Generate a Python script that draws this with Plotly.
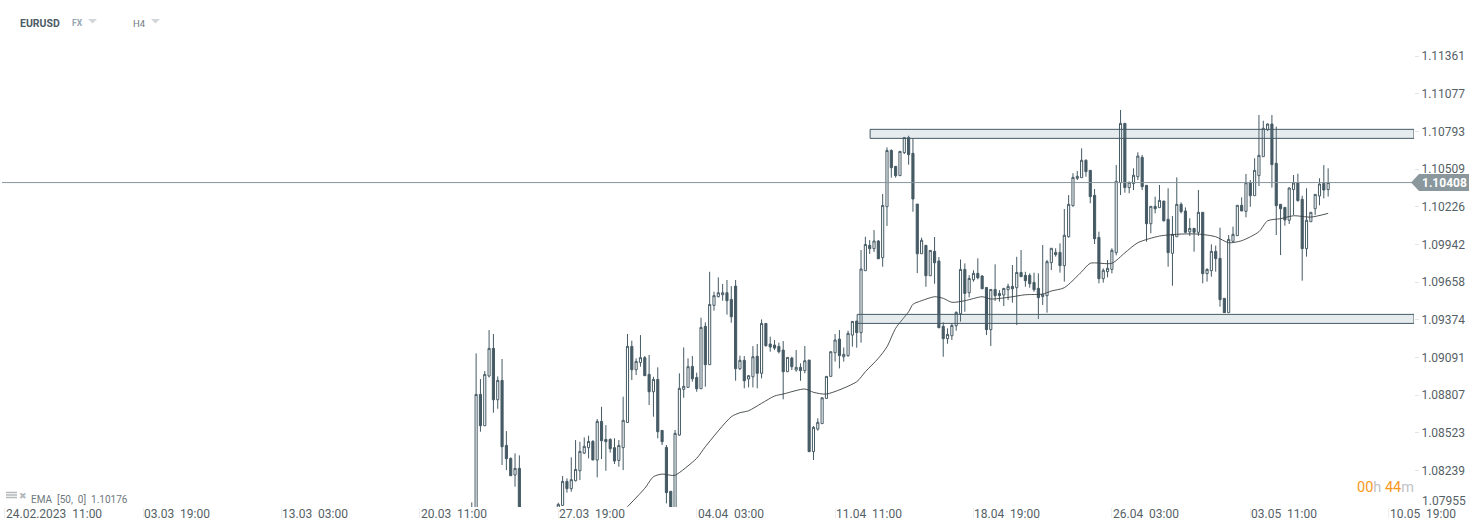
import plotly.graph_objects as go

# Bar numbers: 32 bars between time labels; bars 120-127 sit below the visible window
bar_index = list(range(108, 120)) + list(range(128, 307))

open_pts = [
    107930,107900,108812,108576,108951,109159,108772,108918,108428,108330,
    108205,108255,
    107930,107976,108157,108102,108162,108237,108370,108411,108458,108318,
    108609,108473,108473,108411,108315,108411,108601,109174,108998,109053,
    109089,108963,108832,108925,108541,108413,108082,107900,108506,108850,
    108865,109023,108940,108855,109325,109036,109483,109548,109563,109578,
    109528,109628,109006,109069,108928,108945,109099,108971,109347,109192,
    109184,109174,109146,108983,109086,108996,109016,108991,109071,108381,
    108551,108592,108782,108948,109126,109229,109096,109104,109259,109365,
    109277,109744,109935,109910,109968,109842,110226,110650,110530,110460,
    110633,110748,110628,110246,109872,109935,109706,109890,109817,109325,
    109232,109254,109330,109420,109754,109578,109676,109724,109704,109618,
    109300,109603,109573,109561,109601,109626,109616,109731,109709,109709,
    109656,109611,109549,109556,109805,109882,109882,109782,110000,110234,
    110440,110445,110576,110500,110312,109995,109684,109737,109754,109880,
    110407,110854,110370,110400,110452,110598,110387,110098,110229,110219,
    110269,110131,109875,110000,110244,110194,110036,110063,110033,110184,
    109722,109744,109890,109837,109536,109428,109965,110008,110237,110191,
    110407,110309,110460,110603,110807,110849,110553,110244,110221,110124,
    110355,110405,110282,109910,110113,110211,110307,110402,110355,
]
high_pts = [
    107999,109121,108928,108988,109297,109267,108948,109079,108536,108338,
    108368,108353,
    107996,108197,108180,108338,108468,108456,108488,108501,108468,108627,
    108719,108581,108481,108481,108468,108795,109267,109217,109084,109259,
    109101,109109,108945,109016,108544,108431,108082,108544,108971,109166,
    109084,109101,108976,109390,109355,109736,109586,109694,109644,109674,
    109628,109674,109104,109101,108958,109176,109192,109377,109347,109247,
    109222,109202,109214,109091,109096,109146,109046,109177,109071,108574,
    108632,108787,108948,109134,109267,109297,109166,109292,109365,109365,
    109900,110000,109975,110050,109975,110322,110673,110658,110530,110643,
    110748,110761,110741,110246,109993,109935,109897,109998,109847,109355,
    109310,109347,109438,109829,109799,109711,109747,109837,109711,109618,
    109603,109792,109598,109611,109646,109787,109849,109900,109736,109724,
    109729,109724,109938,109825,109913,109913,109950,110209,110314,110478,
    110495,110666,110583,110503,110360,110038,109762,109825,109913,110540,
    110955,110854,110415,110515,110636,110616,110387,110229,110302,110390,
    110269,110365,110156,110447,110259,110221,110139,110063,110352,110184,
    109762,109943,109933,110068,109536,110013,110076,110237,110297,110473,
    110427,110591,110917,110874,110854,110917,110829,110244,110221,110372,
    110465,110475,110309,110365,110184,110319,110440,110540,110515,
]
low_pts = [
    107880,107850,108531,108576,108940,108674,108704,108280,108242,108197,
    108117,107850,
    107900,107976,108072,108079,108157,108167,108363,108330,108318,108187,
    108325,108237,108373,108288,108268,108242,108601,108920,108958,109021,
    108951,108732,108644,108481,108431,107991,107850,107850,108501,108787,
    108865,108908,108832,108855,108870,109036,109443,109543,109518,109413,
    109352,108915,108996,108858,108865,108865,108858,108933,109172,109134,
    109146,109121,108775,108983,108996,108983,108915,108971,108381,108318,
    108539,108592,108782,108948,109059,109008,109059,109096,109172,109164,
    109202,109744,109870,109885,109834,109774,110081,110445,110445,110460,
    110623,110543,110188,109726,109872,109623,109706,109646,109310,109096,
    109194,109222,109292,109360,109435,109543,109661,109679,109608,109259,
    109177,109516,109511,109478,109523,109503,109335,109699,109623,109616,
    109586,109380,109486,109428,109749,109850,109729,109662,109993,110226,
    110427,110445,110452,110252,109945,109649,109654,109694,109724,109860,
    110314,110332,110327,110352,110427,110352,109963,110026,110176,110219,
    110113,109774,109631,110000,110176,110026,110006,109887,110006,109649,
    109662,109699,109737,109473,109428,109428,109965,110008,110194,110146,
    110226,110309,110382,110603,110796,110370,110013,109862,110083,110096,
    110164,110264,109669,109850,110113,110164,110237,110289,110302,
]
close_pts = [
    107950,108812,108576,108963,109159,108772,108918,108418,108328,108200,
    108255,107900,
    107984,108157,108102,108170,108247,108383,108421,108458,108318,108609,
    108463,108456,108403,108310,108428,108617,109174,108998,109061,109089,
    108953,108832,108925,108531,108456,108072,107900,108519,108858,108873,
    109021,108930,108855,109317,109036,109490,109556,109578,109578,109518,
    109397,109006,109069,108915,108953,109096,108971,109347,109179,109169,
    109161,109134,108983,109091,109021,109016,108991,109066,108381,108564,
    108602,108787,108948,109134,109222,109104,109114,109272,109362,109277,
    109757,109942,109910,109968,109834,110236,110650,110520,110460,110643,
    110748,110618,110284,109872,109973,109706,109897,109804,109315,109232,
    109264,109332,109430,109754,109573,109686,109724,109691,109608,109300,
    109603,109556,109556,109611,109626,109608,109731,109699,109669,109646,
    109601,109541,109566,109812,109913,109865,109782,110011,110244,110447,
    110455,110576,110490,110302,109985,109684,109747,109762,109898,110417,
    110854,110370,110410,110463,110608,110377,110098,110229,110211,110274,
    110121,109880,110018,110244,110189,110033,110063,110033,110184,109722,
    109754,109890,109835,109526,109428,109980,110018,110237,110194,110407,
    110309,110500,110613,110817,110849,110543,110234,110211,110126,110367,
    110405,110272,109910,110124,110184,110319,110397,110352,110408,
]

ema_index = [144,148,150,152,154,155,160,162,168,170,172,175,178,180,185,187,190,197,199,
             202,204,206,209,210,212,215,217,219,222,226,228,232,236,240,242,245,249,251,
             256,259,262,267,272,276,280,283,286,290,292,295,298,302,306]
ema_pts = [107966,108105,108192,108212,108203,108203,108331,108418,108644,108674,108689,
           108745,108800,108815,108853,108828,108815,108908,108983,109084,109171,109310,
           109435,109491,109518,109548,109536,109506,109518,109548,109531,109543,109563,
           109568,109591,109616,109736,109800,109800,109879,109955,110005,110020,110020,
           110000,109955,109970,110038,110120,110136,110158,110148,110176]

price_ticks = [1.11361,1.11077,1.10793,1.10509,1.10226,1.09942,1.09658,1.09374,1.09091,1.08807,1.08523,1.08239]
lowest_tick = 1.07955
time_index = [0,32,64,96,128,160,192,224,256,288,320]
time_labels = ["24.02.2023  11:00","03.03  19:00","13.03  03:00","20.03  11:00","27.03  19:00",
               "04.04  03:00","11.04  11:00","18.04  19:00","26.04  03:00","03.05  11:00","10.05  19:00"]
last_price = 1.10408
upper_zone = (1.10741, 1.10809)
lower_zone = (1.09347, 1.09415)
zone_start = (200.1, 197.1)

INK = "#455a64"
TXT = "#555f66"
FONT = "Roboto"
PL, PR, PT, PB = 2, 1414, 40, 507
XMAX = 325.85


def px(x):
    return (x - PL) / (PR - PL)


def py(y):
    return (PB - y) / (PB - PT)


fig = go.Figure()
fig.add_trace(go.Candlestick(
    x=bar_index,
    open=[v / 1e5 for v in open_pts],
    high=[v / 1e5 for v in high_pts],
    low=[v / 1e5 for v in low_pts],
    close=[v / 1e5 for v in close_pts],
    increasing=dict(line=dict(color=INK, width=1), fillcolor="#ffffff"),
    decreasing=dict(line=dict(color=INK, width=1), fillcolor=INK),
    whiskerwidth=0, showlegend=False, hoverinfo="skip",
))
fig.add_trace(go.Scatter(
    x=ema_index, y=[v / 1e5 for v in ema_pts], mode="lines",
    line=dict(color="#3a4043", width=0.9, shape="spline", smoothing=0.7), showlegend=False, hoverinfo="skip",
))

shapes = []
for (lo, hi), x0 in zip((upper_zone, lower_zone), zone_start):
    shapes.append(dict(type="rect", xref="x", yref="y", x0=x0, x1=XMAX, y0=lo, y1=hi,
                       fillcolor="rgba(130,155,170,0.2)", line=dict(color=INK, width=1), layer="above"))
shapes.append(dict(type="line", xref="x", yref="y", x0=-0.62, x1=XMAX, y0=last_price, y1=last_price,
                   line=dict(color="#87959b", width=1), layer="above"))
# last-price tag
shapes.append(dict(type="path", xref="paper", yref="paper", fillcolor="#8a979c", line=dict(width=0),
                   path=f"M {px(1411)} {py(182.5)} L {px(1419)} {py(174)} L {px(1469)} {py(174)} "
                        f"L {px(1469)} {py(191)} L {px(1419)} {py(191)} Z"))
# header dropdown triangles
for x0, x1 in ((88, 97), (151, 160)):
    shapes.append(dict(type="path", xref="paper", yref="paper", fillcolor="#d3d6d8", line=dict(width=0),
                       path=f"M {px(x0)} {py(19)} L {px(x1)} {py(19)} L {px((x0 + x1) / 2)} {py(23.5)} Z"))
# indicator icon bars
for yy in (492.5, 495, 497.5):
    shapes.append(dict(type="line", xref="paper", yref="paper", x0=px(6), x1=px(17), y0=py(yy), y1=py(yy),
                       line=dict(color="#b4b8bb", width=1.5)))


def note(text, x, y, size, color, anchor="left", **kw):
    return dict(text=text, xref="paper", yref="paper", x=px(x), y=py(y), xanchor=anchor, yanchor="middle",
                showarrow=False, font=dict(family=FONT, size=size, color=color), **kw)


annotations = [
    note("<b>EURUSD</b>", 18, 23.5, 10.5, "#4d5c66"),
    note("<b>FX</b>", 70, 23.5, 8.5, "#94a6b3"),
    note("H4", 131, 23.5, 9.5, "#6f7a80"),
    note("✖", 17, 495.5, 9, "#b4b8bb"),
    note("EMA  [50,  0]  1.10176", 29, 499, 10, "#6d777d"),
    note("<span style='color:#f7981d'>00</span><span style='color:#bfc3c5'>h</span> "
         "<span style='color:#f7981d'>44</span><span style='color:#bfc3c5'>m</span>", 1416, 487, 14.5, "#f7981d", anchor="right"),
    note(f"{lowest_tick:.5f}", 1420, 501, 12, TXT),
    note(f"<b>{last_price:.5f}</b>", 1420, 182.5, 12, "#ffffff"),
]
for i, lab in zip(time_index, time_labels):
    annotations.append(dict(text=lab.replace(" ", "\u00a0"), xref="x", yref="paper", x=i, y=py(513.5),
                            xanchor="left", yanchor="middle", showarrow=False, xshift=-1,
                            font=dict(family=FONT, size=12, color=TXT)))

fig.update_layout(
    width=1482, height=532, autosize=False,
    margin=dict(l=PL, r=1482 - PR, t=PT, b=532 - PB),
    paper_bgcolor="#ffffff", plot_bgcolor="#ffffff",
    font=dict(family=FONT, size=12, color=TXT),
    shapes=shapes, annotations=annotations, showlegend=False,
    xaxis=dict(range=[-0.62, XMAX], rangeslider=dict(visible=False), showgrid=False, zeroline=False,
               showline=False, tickmode="array", tickvals=time_index, ticktext=[""] * len(time_index),
               ticks="outside", ticklen=10, tickcolor="#eceeef", tickwidth=1),
    yaxis=dict(range=[1.07964, 1.11482], side="right", showgrid=False, zeroline=False, showline=False,
               tickmode="array", tickvals=price_ticks, ticktext=[f"{v:.5f}" for v in price_ticks],
               ticks="outside", ticklen=4, tickcolor="#e2e4e5", tickwidth=1,
               tickfont=dict(family=FONT, size=12, color=TXT)),
)
fig.write_html("out.html", config={"displayModeBar": False},
               post_script="document.body.style.margin='0';document.body.style.overflow='hidden';")
